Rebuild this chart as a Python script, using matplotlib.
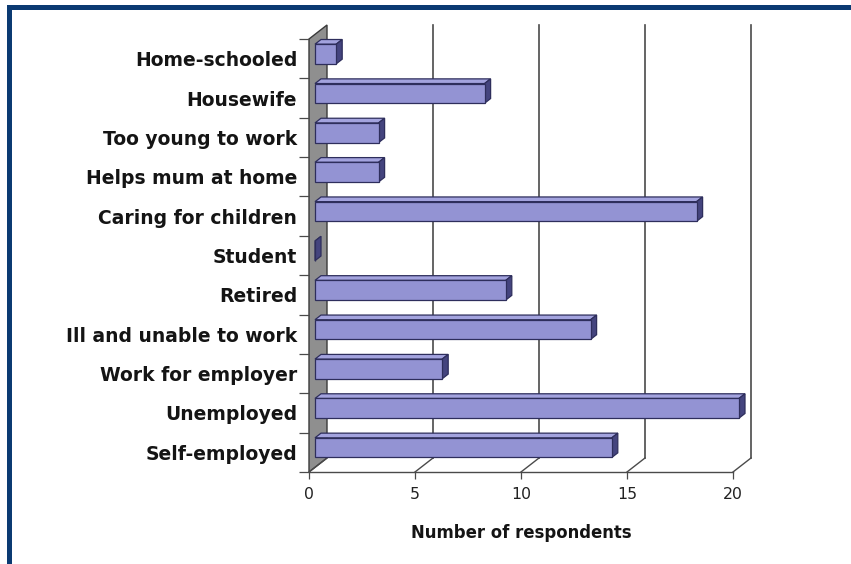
import matplotlib
matplotlib.use("Agg")
import matplotlib.pyplot as plt
from matplotlib.patches import Polygon, Rectangle

# ---- data ----
categories = ["Self-employed", "Unemployed", "Work for employer", "Ill and unable to work",
              "Retired", "Student", "Caring for children", "Helps mum at home",
              "Too young to work", "Housewife", "Home-schooled"]
values = [14, 20, 6, 13, 9, 0, 18, 3, 3, 8, 1]
xticks = [0, 5, 10, 15, 20]
xlabel = "Number of respondents"

W, H = 851, 564
fig = plt.figure(figsize=(W / 100, H / 100), dpi=100)
fig.patch.set_facecolor("white")

# front plane in pixels
x0p, x1p, yb, yt = 309, 733, 472, 39
ax = fig.add_axes([x0p / W, 1 - yb / H, (x1p - x0p) / W, (yb - yt) / H])
n = len(categories)
ax.set_xlim(0, 20)
ax.set_ylim(0, n)
ax.set_facecolor("none")
for s in ax.spines.values():
    s.set_visible(False)

pxx = (x1p - x0p) / 20.0
pxy = (yb - yt) / n
DX = 18 / pxx
DY = 14 / pxy

def P(v, y, t):
    return (v + t * DX, y + t * DY)

line_c = "#4a4a4a"
# left wall
wall = Polygon([P(0, 0, 0), P(0, n, 0), P(0, n, 1), P(0, 0, 1)], closed=True,
               facecolor="#8f8f8f", edgecolor="#3a3a3a", lw=1.0, clip_on=False, zorder=1)
ax.add_patch(wall)
# floor front edge and diagonals
ax.plot([0, 20], [0, 0], color=line_c, lw=1.0, clip_on=False, zorder=2)
for v in xticks:
    a, b = P(v, 0, 0), P(v, 0, 1)
    ax.plot([a[0], b[0]], [a[1], b[1]], color=line_c, lw=1.0, clip_on=False, zorder=2)
# back wall gridlines
for v in xticks[1:]:
    a, b = P(v, 0, 1), P(v, n, 1)
    ax.plot([a[0], b[0]], [a[1], b[1]], color=line_c, lw=1.2, clip_on=False, zorder=2)

# bars
front_c, top_c, side_c, edge_c = "#9393d3", "#a3a3de", "#44447e", "#2e2e5c"
h = 0.25
t0, t1 = 1 / 3, 2 / 3
for i, v in enumerate(values):
    yc = i + 0.5
    top = Polygon([P(0, yc + h, t0), P(v, yc + h, t0), P(v, yc + h, t1), P(0, yc + h, t1)],
                  closed=True, facecolor=top_c, edgecolor=edge_c, lw=0.9, clip_on=False, zorder=3)
    side = Polygon([P(v, yc - h, t0), P(v, yc + h, t0), P(v, yc + h, t1), P(v, yc - h, t1)],
                   closed=True, facecolor=side_c, edgecolor=edge_c, lw=0.9, clip_on=False, zorder=3)
    fx, fy = P(0, yc - h, t0)
    front = Rectangle((fx, fy), v, 2 * h, facecolor=front_c, edgecolor=edge_c, lw=0.9,
                      clip_on=False, zorder=4)
    ax.add_patch(top)
    ax.add_patch(side)
    ax.add_patch(front)

# ticks
ax.set_xticks(xticks)
ax.set_xticklabels([str(t) for t in xticks], fontsize=11.3, color="#222222")
ax.tick_params(axis="x", length=5, width=0.9, color=line_c, pad=6)
ax.set_yticks([i + 0.5 for i in range(n)])
ax.set_yticklabels(categories, fontsize=13.5, fontweight="bold", color="#141414")
ax.tick_params(axis="y", which="major", length=0, pad=8.5)
ax.set_yticks(range(n + 1), minor=True)
ax.tick_params(axis="y", which="minor", length=7, width=0.9, color=line_c)

ax.set_xlabel(xlabel, fontsize=11.9, fontweight="bold", color="#141414")
ax.xaxis.set_label_coords(0.5, (yb - 533) / (yb - yt))
ax.xaxis.label.set_va("center")

# navy frame
navy = "#0b3a72"
fig.patches.append(Rectangle((7 / W, 1 - 10 / H), 1 - 7 / W, 5 / H, transform=fig.transFigure,
                             facecolor=navy, edgecolor="none", zorder=10))
fig.patches.append(Rectangle((7 / W, 0), 5 / W, 1 - 5 / H, transform=fig.transFigure,
                             facecolor=navy, edgecolor="none", zorder=10))

fig.savefig("out.png", dpi=100)
